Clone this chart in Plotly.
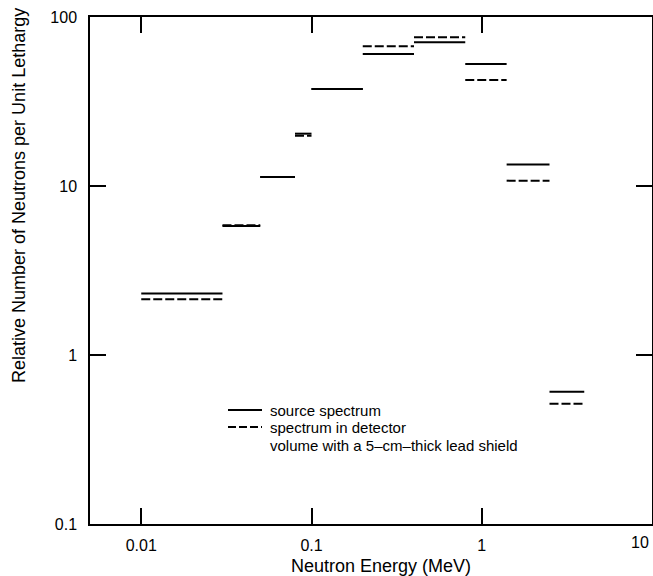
import math
import plotly.graph_objects as go

# Energy bin edges (MeV)
bin_edges = [0.01, 0.03, 0.05, 0.08, 0.1, 0.2, 0.4, 0.8, 1.4, 2.5, 4.0]
# Relative number of neutrons per unit lethargy
source_spectrum = [2.31, 5.8, 11.3, 20.4, 37.5, 60.4, 70.8, 52.7, 13.4, 0.607]
detector_spectrum = [2.14, 5.85, 11.3, 19.85, 37.5, 67.1, 75.8, 42.4, 10.75, 0.515]

x_tick_vals = [0.01, 0.1, 1, 10]
x_tick_text = ["0.01", "0.1", "1", ""]
y_tick_vals = [0.1, 1, 10, 100]
y_tick_text = ["0.1", "1", "10", "100"]

legend_lines = ["source spectrum", "spectrum in detector",
                "volume with a 5–cm–thick lead shield"]

FONT = "Liberation Sans, Arial, sans-serif"
W, H = 653, 576
ML, MR, MT, MB = 90, 1, 17, 52
PW, PH = W - ML - MR, H - MT - MB


def px_x(px):
    return (px - ML) / PW


def px_y(py):
    return (H - MB - py) / PH


def step_segments(edges, values):
    xs, ys = [], []
    for i, v in enumerate(values):
        xs += [edges[i], edges[i + 1], None]
        ys += [v, v, None]
    return xs, ys


fig = go.Figure()
sx, sy = step_segments(bin_edges, source_spectrum)
dx, dy = step_segments(bin_edges, detector_spectrum)
fig.add_trace(go.Scatter(x=sx, y=sy, mode="lines", name=legend_lines[0],
                         line=dict(color="black", width=2), showlegend=False))
fig.add_trace(go.Scatter(x=dx, y=dy, mode="lines",
                         name=legend_lines[1] + " " + legend_lines[2],
                         line=dict(color="black", width=2, dash="9px,3px"),
                         showlegend=False))

axis_common = dict(
    type="log", showline=True, linecolor="black", linewidth=1.5, mirror="ticks",
    ticks="inside", ticklen=16, tickwidth=1.5, tickcolor="black",
    showgrid=False, zeroline=False,
    tickfont=dict(family=FONT, size=16, color="black"),
)

fig.update_xaxes(**axis_common, range=[math.log10(0.005), 1],
                 tickvals=x_tick_vals, ticktext=x_tick_text,
                 ticklabelstandoff=6)
fig.update_yaxes(**axis_common, range=[-1, 2],
                 tickvals=y_tick_vals, ticktext=y_tick_text,
                 ticklabelstandoff=8)

# axis titles
fig.add_annotation(x=px_x(381), y=px_y(566), xref="paper", yref="paper",
                   text="Neutron Energy (MeV)", showarrow=False,
                   xanchor="center", yanchor="middle",
                   font=dict(family=FONT, size=18, color="black"))
fig.add_annotation(x=px_x(19), y=px_y(196), xref="paper", yref="paper",
                   text="Relative Number of Neutrons per Unit Lethargy",
                   textangle=-90, showarrow=False,
                   xanchor="center", yanchor="middle",
                   font=dict(family=FONT, size=18, color="black"))

# last x tick label kept inside the page
fig.add_annotation(x=1, y=-1, xref="x", yref="y", text="10", showarrow=False,
                   xanchor="right", yanchor="top", yshift=-8, xshift=-1,
                   font=dict(family=FONT, size=16, color="black"))

# legend
legend_rows = [410, 427, 445]
fig.add_shape(type="line", xref="paper", yref="paper",
              x0=px_x(228), x1=px_x(262), y0=px_y(legend_rows[0]), y1=px_y(legend_rows[0]),
              line=dict(color="black", width=2))
fig.add_shape(type="line", xref="paper", yref="paper",
              x0=px_x(228), x1=px_x(262), y0=px_y(legend_rows[1]), y1=px_y(legend_rows[1]),
              line=dict(color="black", width=2, dash="8px,3px"))
for txt, row in zip(legend_lines, legend_rows):
    fig.add_annotation(x=px_x(268), y=px_y(row), xref="paper", yref="paper",
                       text=txt, showarrow=False, xanchor="left", yanchor="middle",
                       font=dict(family=FONT, size=15, color="black"))

fig.update_layout(
    width=W, height=H,
    margin=dict(l=ML, r=MR, t=MT, b=MB, autoexpand=False),
    paper_bgcolor="white", plot_bgcolor="white",
    font=dict(family=FONT, size=15, color="black"),
    showlegend=False,
)

fig.write_html("out.html", config={"displayModeBar": False},
               post_script="document.body.style.margin='0';document.body.style.overflow='hidden';")
